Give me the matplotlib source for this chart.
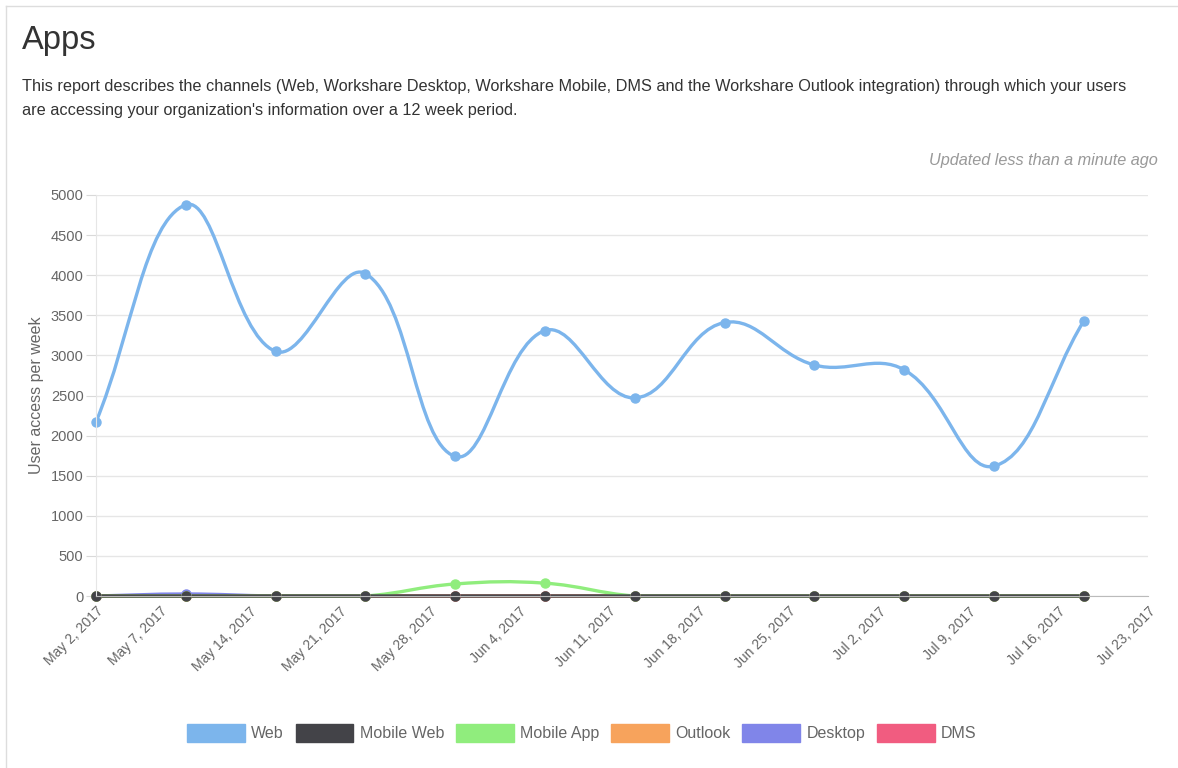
import datetime as dt
import numpy as np
import matplotlib
matplotlib.use("Agg")
import matplotlib.pyplot as plt
import matplotlib.dates as mdates
from matplotlib.path import Path
from matplotlib.patches import PathPatch, Patch
from matplotlib.lines import Line2D

plt.rcParams['font.family'] = ['Liberation Sans', 'DejaVu Sans']

W, H = 1178, 768

# weekly data points
week_dates = [dt.date(2017, 5, 2) + dt.timedelta(days=7 * k) for k in range(12)]
web = [2170, 4880, 3050, 4020, 1740, 3310, 2470, 3410, 2880, 2820, 1620, 3430]
mobile_web = [0, 0, 0, 0, 0, 0, 0, 0, 0, 0, 0, 0]
mobile_app = [0, 0, 0, 0, 150, 160, 0, 0, 0, 0, 0, 0]
outlook = [0, 0, 0, 0, 0, 0, 0, 0, 0, 0, 0, 0]
desktop = [0, 25, 0, 0, 0, 0, 0, 0, 0, 0, 0, 0]
dms = [0, 0, 0, 0, 0, 0, 0, 0, 0, 0, 0, 0]

series_names = ["Web", "Mobile Web", "Mobile App", "Outlook", "Desktop", "DMS"]
series_values = [web, mobile_web, mobile_app, outlook, desktop, dms]
series_colors = ["#7cb5ec", "#434348", "#90ed7d", "#f7a35c", "#8085e9", "#f15c80"]

tick_dates = [dt.date(2017, 5, 2)] + [dt.date(2017, 5, 7) + dt.timedelta(days=7 * k) for k in range(12)]
tick_labels = ["May 2, 2017", "May 7, 2017", "May 14, 2017", "May 21, 2017", "May 28, 2017",
               "Jun 4, 2017", "Jun 11, 2017", "Jun 18, 2017", "Jun 25, 2017", "Jul 2, 2017",
               "Jul 9, 2017", "Jul 16, 2017", "Jul 23, 2017"]
y_ticks = [0, 500, 1000, 1500, 2000, 2500, 3000, 3500, 4000, 4500, 5000]


def spline_path(ax, xs, ys, tension=0.4):
    # Chart.js style bezier smoothing, done in pixel space
    pts = ax.transData.transform(np.column_stack([xs, ys]))
    n = len(pts)
    prev_cp, next_cp = [], []
    for i in range(n):
        p0 = pts[i - 1] if i > 0 else pts[i]
        p1 = pts[i]
        p2 = pts[i + 1] if i < n - 1 else pts[i]
        d01 = np.hypot(*(p1 - p0))
        d12 = np.hypot(*(p2 - p1))
        tot = d01 + d12
        s01 = d01 / tot if tot else 0
        s12 = d12 / tot if tot else 0
        prev_cp.append(p1 - tension * s01 * (p2 - p0))
        next_cp.append(p1 + tension * s12 * (p2 - p0))
    bbox = ax.bbox
    verts = [pts[0]]
    codes = [Path.MOVETO]
    for i in range(n - 1):
        for p in (next_cp[i], prev_cp[i + 1], pts[i + 1]):
            q = p.copy()
            q[1] = min(max(q[1], bbox.y0), bbox.y1)
            verts.append(q)
            codes.append(Path.CURVE4)
    verts = ax.transData.inverted().transform(np.array(verts))
    return Path(verts, codes)


fig = plt.figure(figsize=(W / 100, H / 100), dpi=100)
ax = fig.add_axes([96 / W, 1 - 596 / H, (1148 - 96) / W, (596 - 195) / H])

x_num = mdates.date2num(week_dates)
ax.set_xlim(mdates.date2num(dt.date(2017, 5, 2)), mdates.date2num(dt.date(2017, 7, 23)))
ax.set_ylim(0, 5000)

# draw last dataset first so Web ends on top
for name, vals, col in reversed(list(zip(series_names, series_values, series_colors))):
    path = spline_path(ax, x_num, vals)
    ax.add_patch(PathPatch(path, facecolor='none', edgecolor=col, lw=2.4,
                           capstyle='round', joinstyle='round', clip_on=False))
    ax.plot(x_num, vals, 'o', color=col, ms=6.5, clip_on=False)

ax.set_yticks(y_ticks)
ax.set_yticklabels([str(v) for v in y_ticks], color='#666666', fontsize=10.5)
ax.set_xticks(mdates.date2num(tick_dates))
ax.set_xticklabels(tick_labels, rotation=45, ha='right', rotation_mode='anchor',
                   color='#666666', fontsize=10)
ax.tick_params(axis='y', length=7, color='#d9d9d9', pad=2)
ax.tick_params(axis='x', length=0, pad=6)
ax.grid(axis='y', color='#e6e6e6', lw=1)
ax.set_axisbelow(True)
for s in ['top', 'right']:
    ax.spines[s].set_visible(False)
ax.spines['left'].set_color('#e6e6e6')
ax.spines['bottom'].set_color('#bbbbbb')
ax.set_ylabel("User access per week", color='#666666', fontsize=11.5, labelpad=5)

handles = [Patch(facecolor=c, edgecolor=c) for c in series_colors]
fig.legend(handles, series_names, loc='center', bbox_to_anchor=(582 / W, 1 - 733 / H),
           ncol=6, frameon=False, fontsize=11.5, handlelength=3.6, handleheight=1.35,
           handletextpad=0.4, columnspacing=0.75, labelcolor='#666666')

fig.text(22 / W, 1 - 40 / H, "Apps", fontsize=23.5, color='#333333', va='center')
fig.text(22 / W, 1 - 87 / H,
         "This report describes the channels (Web, Workshare Desktop, Workshare Mobile, DMS and the "
         "Workshare Outlook integration) through which your users",
         fontsize=11.7, color='#333333', va='center')
fig.text(22 / W, 1 - 110 / H, "are accessing your organization's information over a 12 week period.",
         fontsize=11.7, color='#333333', va='center')
fig.text(1158 / W, 1 - 160 / H, "Updated less than a minute ago", fontsize=11.7, color='#999999',
         style='italic', ha='right', va='center')

# card border
fig.add_artist(Line2D([6 / W, 1], [1 - 6 / H, 1 - 6 / H], color='#dddddd', lw=1))
fig.add_artist(Line2D([6 / W, 6 / W], [0, 1 - 6 / H], color='#dddddd', lw=1))

fig.savefig("out.png", dpi=100)
